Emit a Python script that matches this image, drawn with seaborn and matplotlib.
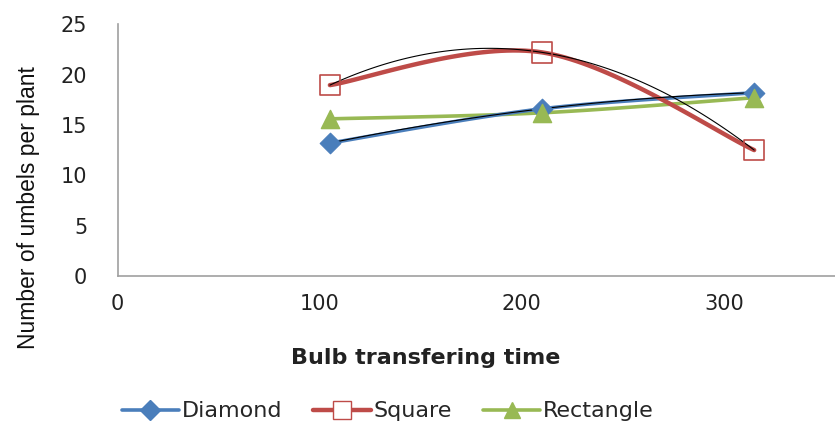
import numpy as np
import pandas as pd
import matplotlib
matplotlib.use("Agg")
import matplotlib.pyplot as plt
from matplotlib.lines import Line2D
import seaborn as sns

# ---- data ----
times = [105, 210, 315]
diamond = [13.2, 16.6, 18.2]
square = [18.95, 22.2, 12.5]
rectangle = [15.6, 16.2, 17.7]
series_names = ["Diamond", "Square", "Rectangle"]
x_ticks = [0, 100, 200, 300]
y_ticks = [0, 5, 10, 15, 20, 25]

colors = {"Diamond": "#4a7ebb", "Square": "#be4b48", "Rectangle": "#98b954"}

sns.set_theme(style="white")
plt.rcParams['font.family'] = ['DejaVu Sans']


def smooth(xs, ys, n=40):
    """Catmull-Rom style smoothing (like spreadsheet smoothed lines)."""
    xs = np.asarray(xs, float)
    ys = np.asarray(ys, float)
    P = np.column_stack([xs, ys])
    P = np.vstack([P[0], P, P[-1]])
    out = []
    for i in range(1, len(P) - 2):
        p0, p1, p2, p3 = P[i - 1], P[i], P[i + 1], P[i + 2]
        c1 = p1 + (p2 - p0) / 6.0
        c2 = p2 - (p3 - p1) / 6.0
        t = np.linspace(0, 1, n)[:, None]
        b = ((1 - t) ** 3) * p1 + 3 * ((1 - t) ** 2) * t * c1 + 3 * (1 - t) * t ** 2 * c2 + t ** 3 * p2
        out.append(b if i == 1 else b[1:])
    arr = np.vstack(out)
    return arr[:, 0], arr[:, 1]


fig = plt.figure(figsize=(8.35, 4.24), dpi=100)
ax = fig.add_axes([0.141, 0.349, 0.859, 0.594])

data = {"Diamond": diamond, "Square": square, "Rectangle": rectangle}
lws = {"Diamond": 2.6, "Square": 3.2, "Rectangle": 2.6}

rows = []
for name in series_names:
    sx, sy = smooth(times, data[name])
    rows.append(pd.DataFrame({"x": sx, "y": sy, "series": name}))
curves = pd.concat(rows, ignore_index=True)

for name in ["Rectangle", "Diamond", "Square"]:
    sub = curves[curves.series == name]
    sns.lineplot(data=sub, x="x", y="y", color=colors[name], lw=lws[name],
                 sort=False, estimator=None, ax=ax, legend=False)

# polynomial trendlines (order 2) for Diamond and Square
for name in ["Diamond", "Square"]:
    coef = np.polyfit(times, data[name], 2)
    tx = np.linspace(times[0], times[-1], 100)
    ty = np.polyval(coef, tx)
    sns.lineplot(x=tx, y=ty, color="black", lw=0.8, ax=ax, legend=False)

# markers
sns.scatterplot(x=times, y=diamond, marker="D", s=110, color=colors["Diamond"],
                edgecolor=colors["Diamond"], ax=ax, zorder=5, legend=False)
sns.scatterplot(x=times, y=rectangle, marker="^", s=170, color=colors["Rectangle"],
                edgecolor=colors["Rectangle"], ax=ax, zorder=5, legend=False)
sns.scatterplot(x=times, y=square, marker="s", s=220, facecolor="none",
                edgecolor=colors["Square"], linewidth=1.2, ax=ax, zorder=6, legend=False)

ax.set_xlim(0, 355)
ax.set_ylim(0, 25)
ax.set_xticks(x_ticks)
ax.set_yticks(y_ticks)
for s in ["top", "right"]:
    ax.spines[s].set_visible(False)
for s in ["left", "bottom"]:
    ax.spines[s].set_color("#a0a0a0")
    ax.spines[s].set_linewidth(1.2)
ax.tick_params(axis="both", which="both", width=1.2, color="#a0a0a0",
               labelsize=15, labelcolor="#222222")
ax.tick_params(axis="y", direction="out", length=8, pad=14)
ax.tick_params(axis="x", direction="inout", length=14, pad=6)

ax.set_xlabel("Bulb transfering time", fontsize=16, fontweight="bold", color="#222222")
ax.xaxis.set_label_coords(0.43, -0.285)
ax.set_ylabel("Number of umbels per plant", fontsize=16.5, color="#111111",
              family=["Liberation Sans", "DejaVu Sans"])
ax.yaxis.set_label_coords(-0.108, 0.27)

handles = [Line2D([0], [0], color=colors["Diamond"], lw=2.6, marker="D", markersize=10,
                  markerfacecolor=colors["Diamond"], markeredgecolor=colors["Diamond"]),
           Line2D([0], [0], color=colors["Square"], lw=3.2, marker="s", markersize=13,
                  markerfacecolor="white", markeredgecolor=colors["Square"]),
           Line2D([0], [0], color=colors["Rectangle"], lw=2.6, marker="^", markersize=12,
                  markerfacecolor=colors["Rectangle"], markeredgecolor=colors["Rectangle"])]
fig.legend(handles, series_names, loc="center", bbox_to_anchor=(0.464, 0.03), ncol=3,
           frameon=False, fontsize=16, handlelength=2.6, handletextpad=0.1, columnspacing=1.4)

fig.savefig("out.png", dpi=100)
